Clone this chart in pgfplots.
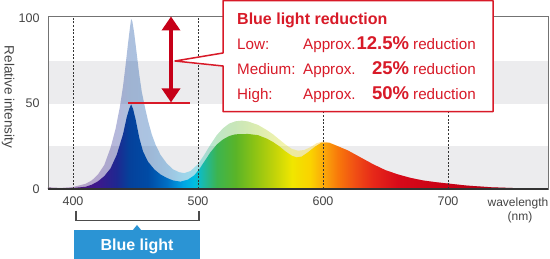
\documentclass[border=0pt]{standalone}
\usepackage{pgfplots}
\pgfplotsset{compat=1.18}
\usepackage{fontspec}
\setmainfont{Liberation Sans}
\usetikzlibrary{arrows.meta}

\definecolor{band}{HTML}{ECECEE}
\definecolor{redtxt}{HTML}{D81A28}
\definecolor{arrowred}{HTML}{C60018}
\definecolor{bluebox}{HTML}{2B94D4}
\definecolor{txtgray}{HTML}{444444}

\definecolor{s380}{RGB}{90,20,100}
\definecolor{s400}{RGB}{80,20,125}
\definecolor{s420}{RGB}{60,25,140}
\definecolor{s435}{RGB}{30,40,145}
\definecolor{s445}{RGB}{5,65,155}
\definecolor{s460}{RGB}{0,75,165}
\definecolor{s475}{RGB}{0,110,195}
\definecolor{s488}{RGB}{0,165,228}
\definecolor{s497}{RGB}{0,190,225}
\definecolor{s505}{RGB}{30,185,160}
\definecolor{s515}{RGB}{60,180,80}
\definecolor{s530}{RGB}{90,180,40}
\definecolor{s545}{RGB}{140,195,20}
\definecolor{s560}{RGB}{190,210,10}
\definecolor{s575}{RGB}{240,230,0}
\definecolor{s590}{RGB}{250,210,0}
\definecolor{s600}{RGB}{250,170,10}
\definecolor{s612}{RGB}{248,120,10}
\definecolor{s625}{RGB}{240,80,20}
\definecolor{s640}{RGB}{230,40,25}
\definecolor{s660}{RGB}{215,10,25}
\definecolor{s700}{RGB}{200,0,20}
\definecolor{s740}{RGB}{170,0,20}
\definecolor{s780}{RGB}{140,0,20}

% position = 25 + (lambda-380)/8
\pgfdeclarehorizontalshading{spectrum}{100bp}{%
color(0bp)=(s380); color(25bp)=(s380); color(27.5bp)=(s400); color(30bp)=(s420);
color(31.875bp)=(s435); color(33.125bp)=(s445); color(35bp)=(s460); color(36.875bp)=(s475);
color(38.5bp)=(s488); color(39.625bp)=(s497); color(40.625bp)=(s505); color(41.875bp)=(s515);
color(43.75bp)=(s530); color(45.625bp)=(s545); color(47.5bp)=(s560); color(49.375bp)=(s575);
color(51.25bp)=(s590); color(52.5bp)=(s600); color(54bp)=(s612); color(55.625bp)=(s625);
color(57.5bp)=(s640); color(60bp)=(s660); color(65bp)=(s700); color(70bp)=(s740);
color(75bp)=(s780); color(100bp)=(s780)}

\pgfplotstableread{
x y
380 0.8
390 0.5
400 0.6
410 1.3
415 2.5
420 4.5
425 7.5
430 12
435 20
440 32
443 42
445 47
446.5 49.5
448 47
450 41
453 30
456 22
460 16
465 11.5
470 8.5
475 6.5
480 5
486 4.3
492 5.5
497 8
501 11.5
505 16
510 21.5
515 26
520 29
525 31
530 32
540 32.2
548 31.5
555 29.5
560 27.5
565 25
570 22
575 19.5
579 18.5
583 19
588 21.5
594 25
599 27.2
605 27
612 25
620 22.5
630 18.5
640 14.5
650 11
660 8.5
670 6.5
680 5
690 4
700 3.2
715 2
735 1
755 0.5
780 0.3
}\reduced

\pgfplotstableread{
x y
380 0.8
390 0.6
400 1.2
410 3
415 5
420 8.5
425 14
430 24
434 35
437.5 48
440 60
442 72
444 85
445.5 94
446.5 99.5
447.5 98
449 91
451 79
453 67
455 57
457.5 48
460 40
463 32
466 26
470 20
475 15
480 11.5
485 9.8
489 9.3
494 10.5
500 14.5
505 20
510 26
515 31.5
520 35.5
525 38.3
530 39.6
535 40
540 39.5
548 37.5
555 34.5
560 32
565 29
570 26
575 23.5
580 22.4
585 22.8
590 24.5
595 26.8
600 27.8
605 27.3
612 25
620 22.5
630 18.5
640 14.5
650 11
660 8.5
670 6.5
680 5
690 4
700 3.2
715 2
735 1
755 0.5
780 0.3
}\original

\begin{document}
\begin{tikzpicture}
\path[use as bounding box] (0pt,0pt) rectangle (550pt,259pt);
\begin{axis}[
  at={(48pt,70pt)}, anchor=south west,
  scale only axis, width=500pt, height=173pt,
  xmin=380, xmax=780, ymin=0, ymax=101.2,
  xtick={400,500,600,700}, ytick={0,50,100},
  major tick length=0pt,
  axis line style={draw=black!55, line width=0.9pt},
  tick label style={font=\fontsize{12.5}{14}\selectfont, text=txtgray},
  /pgf/number format/assume math mode=true,
  xticklabel style={yshift=-4pt},
  yticklabel style={xshift=-5pt},
  axis on top,
  clip mode=individual,
]
\fill[band] (axis cs:380,50) rectangle (axis cs:780,75);
\fill[band] (axis cs:380,0) rectangle (axis cs:780,25);
\addplot[draw=none, shade, shading=spectrum, fill opacity=0.33] table[x=x,y=y] {\original} \closedcycle;
\addplot[draw=none, shade, shading=spectrum] table[x=x,y=y] {\reduced} \closedcycle;
\foreach \xx in {400,500,600,700}{
  \edef\temp{\noexpand\draw[draw=black!80, line width=0.8pt, dash pattern=on 2pt off 1.6pt] (axis cs:\xx,0) -- (axis cs:\xx,101.2);}
  \temp
}
\end{axis}
\begin{scope}[x=1pt,y=1pt]
\draw[black!80, line width=1.3pt] (48,70) -- (548,70);
% callout
\filldraw[fill=white, draw=redtxt, line width=1.5pt, line join=round] (223,258.3) -- (493,258.3) -- (493,147.3) -- (223,147.3) -- (223,193) -- (175,198) -- (223,206) -- cycle;
% reduction marker line (v = 50) and arrow (v = 100 -> 50)
\draw[draw=redtxt, line width=1.5pt] (128,155.8) -- (190,155.8);
\draw[draw=arrowred, fill=arrowred, line width=4.8pt, {Triangle[width=18pt,length=14pt]}-{Triangle[width=18pt,length=14pt]}] (171,242.5) -- (171,156.6);
\node[anchor=base west, inner sep=0pt, text=redtxt, font=\bfseries\fontsize{16}{18}\selectfont] at (237,234.7) {Blue light reduction};
\begin{scope}[every node/.style={inner sep=0pt, text=redtxt, font=\fontsize{15.2}{18}\selectfont}]
\node[anchor=base west] at (237,209.7) {Low:};
\node[anchor=base west] at (303,209.7) {Approx.};
\node[anchor=base east, font=\bfseries\fontsize{18.5}{20}\selectfont] at (409.3,209.7) {12.5\%};
\node[anchor=base west] at (413,209.7) {reduction};
\node[anchor=base west] at (237,184.3) {Medium:};
\node[anchor=base west] at (303,184.3) {Approx.};
\node[anchor=base east, font=\bfseries\fontsize{18.5}{20}\selectfont] at (409.3,184.3) {25\%};
\node[anchor=base west] at (413,184.3) {reduction};
\node[anchor=base west] at (237,159.8) {High:};
\node[anchor=base west] at (303,159.8) {Approx.};
\node[anchor=base east, font=\bfseries\fontsize{18.5}{20}\selectfont] at (409.3,159.8) {50\%};
\node[anchor=base west] at (413,159.8) {reduction};
\end{scope}
% axis labels
\node[rotate=-90, font=\fontsize{13.5}{16}\selectfont, text=txtgray] at (8,162) {Relative intensity};
\node[font=\fontsize{12}{14}\selectfont, text=txtgray] at (518,56) {wavelength};
\node[font=\fontsize{12}{14}\selectfont, text=txtgray] at (520,42) {(nm)};
% blue light bracket
\draw[black!70, line width=1.1pt] (76,48.3) -- (76,38.5) -- (199,38.5) -- (199,48.3);
\fill[bluebox] (74,-5) rectangle (200,29);
\fill[bluebox] (132.5,28.5) -- (137,34) -- (141.5,28.5) -- cycle;
\node[text=white, font=\bfseries\fontsize{16}{18}\selectfont] at (137,12.5) {Blue light};
\end{scope}
\end{tikzpicture}
\end{document}
